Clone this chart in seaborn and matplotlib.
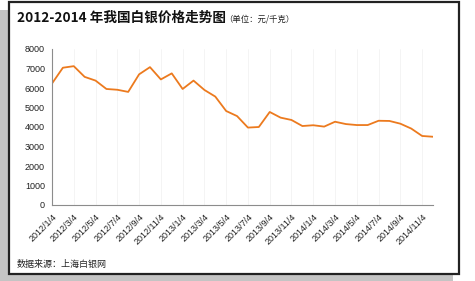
import matplotlib
matplotlib.use("Agg")
import matplotlib.pyplot as plt
import seaborn as sns
import pandas as pd
from matplotlib.patches import Rectangle

months = [f"{y}/{m}/4" for y in (2012, 2013, 2014) for m in range(1, 13)]
prices = [6230, 7040, 7120, 6570, 6380, 5950, 5910, 5800, 6700, 7070,
          6440, 6750, 5950, 6380, 5900, 5560, 4820, 4560, 3970, 4000,
          4770, 4480, 4360, 4050, 4090, 4020, 4270, 4150, 4100, 4100,
          4320, 4310, 4170, 3920, 3540, 3500]
tick_labels = months[::2]
y_ticks = [0, 1000, 2000, 3000, 4000, 5000, 6000, 7000, 8000]

title = "2012-2014 年我国白银价格走势图"
unit = "（单位：元/千克）"
source = "数据来源：上海白银网"

sns.set_theme(style="white")
plt.rcParams['font.family'] = ['Noto Sans CJK SC', 'DejaVu Sans']

W, H = 475, 281
fig = plt.figure(figsize=(W / 100, H / 100), dpi=100)

def px(x0, y0, w, h, **kw):
    r = Rectangle((x0 / W, 1 - (y0 + h) / H), w / W, h / H,
                  transform=fig.transFigure, **kw)
    fig.patches.append(r)

# shadow and framed panel
px(0, 10, 453, 271, facecolor="#c4c4c4", edgecolor="none", zorder=0)
px(9, 2, 450, 272, facecolor="white", edgecolor="#222222", linewidth=1.6, zorder=1)

ax = fig.add_axes([52 / W, 1 - 205 / H, (433 - 52) / W, (205 - 49) / H])
ax.set_zorder(2)
ax.patch.set_alpha(0)

df = pd.DataFrame({"idx": range(len(months)), "price": prices})
sns.lineplot(data=df, x="idx", y="price", ax=ax, color="#EC7A1E", linewidth=1.3)

num_font = "Liberation Sans"
ax.set_xlim(0, len(months) - 1)
ax.set_ylim(0, 8000)
ax.set_xticks(range(0, len(months), 2))
ax.set_xticklabels(tick_labels, rotation=45, ha="right", rotation_mode="anchor",
                   fontsize=6.5, family=num_font)
ax.set_yticks(y_ticks)
ax.set_yticklabels([str(v) for v in y_ticks], fontsize=6.5, family=num_font)
ax.set_xlabel("")
ax.set_ylabel("")
for s in ("top", "right"):
    ax.spines[s].set_visible(False)
for s in ("left", "bottom"):
    ax.spines[s].set_color("#8c8c8c")
    ax.spines[s].set_linewidth(0.8)
ax.tick_params(axis="both", which="both", direction="out", length=3,
               width=0.7, color="#8c8c8c", pad=2, labelcolor="#222222")
ax.grid(axis="x", color="#f3f3f3", linewidth=0.6)

fig.text(17 / W, 1 - 18 / H, title, fontsize=9.8, fontweight="bold",
         va="center", ha="left", color="#111111", zorder=3)
fig.text(224 / W, 1 - 19 / H, unit, fontsize=6.0, va="center", ha="left",
         color="#222222", zorder=3)
fig.text(17 / W, 1 - 264 / H, source, fontsize=6.5, va="center", ha="left",
         color="#222222", zorder=3)

fig.savefig("out.png", dpi=100)
